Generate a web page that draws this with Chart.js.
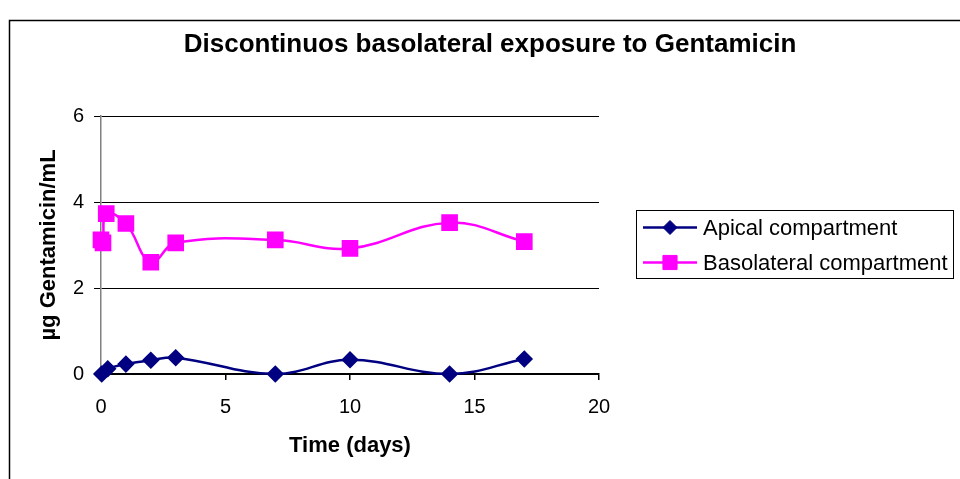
<!DOCTYPE html>
<html>
<head>
<meta charset="utf-8">
<script src="https://cdn.jsdelivr.net/npm/chart.js@4/dist/chart.umd.min.js"></script>
<style>
  html, body { margin: 0; padding: 0; background: #fff; }
  #wrap { width: 960px; height: 479px; position: relative; }
</style>
</head>
<body>
<div id="wrap"><canvas id="gentaChart"></canvas></div>
<script>
// values
const chartTitle = 'Discontinuos basolateral exposure to Gentamicin';
const xTitle = 'Time (days)';
const yTitle = 'µg Gentamicin/mL';

const apicalDays = [0.03, 0.27, 1, 2, 3, 7, 10, 14, 17];
const apicalConc = [0.0, 0.12, 0.23, 0.32, 0.38, 0.0, 0.33, 0.0, 0.35];

const basoDays = [0, 0.08, 0.21, 1, 2, 3, 7, 10, 14, 17];
const basoConc = [3.12, 3.05, 3.73, 3.5, 2.6, 3.05, 3.12, 2.92, 3.52, 3.08];

const xTicks = [0, 5, 10, 15, 20];
const yTicks = [0, 2, 4, 6];

const FONT = "'Liberation Sans', Arial, sans-serif";

const toPoints = (xs, ys) => xs.map((x, i) => ({ x, y: ys[i] }));

// frame + title, drawn like the Excel chart area
const frame = {
  id: 'frame',
  beforeDraw(chart) {
    const { ctx } = chart;
    ctx.save();
    ctx.fillStyle = '#fff';
    ctx.fillRect(0, 0, chart.width, chart.height);
    ctx.strokeStyle = '#000';
    ctx.lineWidth = 1.5;
    ctx.strokeRect(9.5, 20.5, chart.width + 10, chart.height + 10);
    ctx.restore();
  },
  afterDraw(chart) {
    const { ctx } = chart;
    ctx.save();
    ctx.fillStyle = '#000';
    ctx.font = 'bold 26px ' + FONT;
    ctx.textAlign = 'center';
    ctx.textBaseline = 'middle';
    ctx.fillText(chartTitle, 490, 45);
    ctx.restore();
  }
};

// boxed legend on the right, line + marker like Excel
const boxLegend = {
  id: 'boxLegend',
  afterDraw(chart) {
    const { ctx } = chart;
    const left = 636.5, top = 210.5, w = 317, h = 68;
    ctx.save();
    ctx.strokeStyle = '#000';
    ctx.lineWidth = 1;
    ctx.strokeRect(left, top, w, h);
    ctx.font = '22px ' + FONT;
    ctx.textBaseline = 'middle';
    chart.data.datasets.forEach((ds, i) => {
      const y = top + 17 + i * 35;
      ctx.strokeStyle = ds.borderColor;
      ctx.lineWidth = ds.borderWidth;
      ctx.beginPath();
      ctx.moveTo(643, y);
      ctx.lineTo(697, y);
      ctx.stroke();
      ctx.fillStyle = ds.pointBackgroundColor;
      ctx.strokeStyle = ds.pointBorderColor;
      ctx.lineWidth = 1;
      Chart.helpers.drawPoint(ctx, { pointStyle: ds.pointStyle, radius: ds.pointRadius, borderWidth: 1, rotation: 0 }, 670, y);
      ctx.fillStyle = '#000';
      ctx.fillText(ds.label, 703, y + 1);
    });
    ctx.restore();
  }
};

new Chart(document.getElementById('gentaChart'), {
  type: 'line',
  data: {
    datasets: [{
      label: 'Apical compartment',
      data: toPoints(apicalDays, apicalConc),
      borderColor: '#000080',
      borderWidth: 2.5,
      pointStyle: 'rectRot',
      pointRadius: 7,
      pointBackgroundColor: '#000080',
      pointBorderColor: '#000080',
      tension: 0.4,
      clip: false
    }, {
      label: 'Basolateral compartment',
      data: toPoints(basoDays, basoConc),
      borderColor: '#FF00FF',
      borderWidth: 2.5,
      pointStyle: 'rect',
      pointRadius: 10,
      pointBackgroundColor: '#FF00FF',
      pointBorderColor: '#FF00FF',
      tension: 0.4,
      clip: false
    }]
  },
  options: {
    responsive: true,
    maintainAspectRatio: false,
    animation: false,
    events: [],
    layout: { padding: { left: 32, top: 116, right: 361, bottom: 16 } },
    plugins: { legend: { display: false }, title: { display: false }, tooltip: { enabled: false } },
    scales: {
      x: {
        type: 'linear', min: 0, max: 20,
        afterBuildTicks: s => { s.ticks = xTicks.map(v => ({ value: v })); },
        afterFit: s => { s.height = 89; },
        border: { color: '#000', width: 1.5 },
        grid: { drawOnChartArea: false, drawTicks: true, tickLength: 6, color: '#000', lineWidth: 1.5 },
        ticks: { color: '#000', font: { family: FONT, size: 20 }, padding: 15, maxRotation: 0 },
        title: { display: true, text: xTitle, color: '#000', font: { family: FONT, size: 22, weight: 'bold' } }
      },
      y: {
        type: 'linear', min: 0, max: 6,
        afterBuildTicks: s => { s.ticks = yTicks.map(v => ({ value: v })); },
        afterFit: s => { s.width = 69; },
        border: { color: '#808080', width: 1.5 },
        grid: { color: '#000', lineWidth: 1, tickLength: 7 },
        ticks: { color: '#000', font: { family: FONT, size: 20 }, padding: 10 },
        title: { display: true, text: yTitle, color: '#000', font: { family: FONT, size: 22, weight: 'bold' } }
      }
    }
  },
  plugins: [frame, boxLegend]
});
</script>
</body>
</html>
